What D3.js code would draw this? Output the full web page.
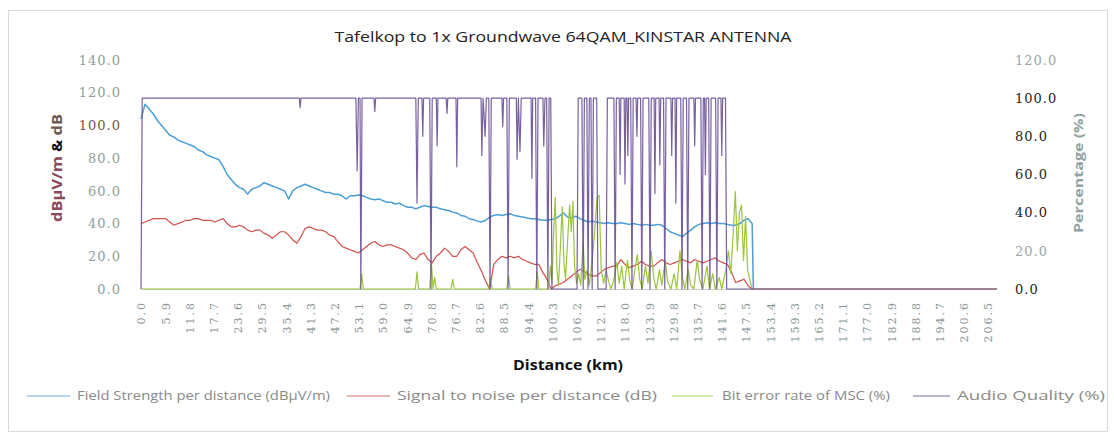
<!DOCTYPE html>
<html><head><meta charset="utf-8">
<script src="https://cdn.jsdelivr.net/npm/d3@7/dist/d3.min.js"></script>
<style>
html,body{margin:0;padding:0;background:#fff;}
svg{display:block;}
</style></head>
<body>
<svg id="chart" width="1114" height="439"></svg>
<script>
// ---------------- DATA ----------------
const title = "Tafelkop to 1x Groundwave 64QAM_KINSTAR ANTENNA";
const xTickLabels = [0.0,5.9,11.8,17.7,23.6,29.5,35.4,41.3,47.2,53.1,59.0,64.9,70.8,76.7,82.6,88.5,94.4,100.3,106.2,112.1,118.0,123.9,129.8,135.7,141.6,147.5,153.4,159.3,165.2,171.1,177.0,182.9,188.8,194.7,200.6,206.5];
const leftTicks = [0,20,40,60,80,100,120,140];
const rightTicks = [0,20,40,60,80,100,120];

// distance (km) for field strength & SNR samples
const fsKm = [0,1,2,3,4,5,6,7,8,9,10,11,12,13,14,15,16,17,18,19,20,21,22,23,24,25,26,27,28,29,30,31,32,33,34,35,36,37,38,39,40,41,42,43,44,45,46,47,48,49,50,51,52,53,54,55,56,57,58,59,60,61,62,63,64,65,66,67,68,69,70,71,72,73,74,75,76,77,78,79,80,81,82,83,84,85,86,87,88,89,90,91,92,93,94,95,96,97,98,99,100,101,102,103,104,105,106,107,108,109,110,111,112,113,114,115,116,117,118,119,120,121,122,123,124,125,126,127,128,129,130,131,132,133,134,135,136,137,138,139,140,141,142,143,144,145,146,147,148,149,149.3,208.7];
const fieldStrength = [104,113,110,107,103,100,97,94,93,91,90,89,88,87,85,84,82,81,80,79,75,70,67,64,62,61,58,61,62,63,65,64,63,62,61,60,55,60,62,63,64,63,62,61,60,59,59,58,58,57,55,57,57,57.5,57,56,55,54.5,55,54,53,53,52,52.5,51,50,50,49,50,51,50.5,50,50,49,48.5,48,47,46.5,45,44.5,43,42.5,41.5,41,42,44,45,45.5,45,45.5,46,45,44.5,44,43.5,43,43,42.5,42,42,42.5,43,44.5,46.5,44,43.5,44.5,43,42,41,41.5,41,40.5,40,40.5,40,40,40.5,40,39.5,40,39.5,39,39.5,39,39,39.5,39,37,35,34,33,32,34,36,38,39.5,40,40.5,40,40.5,40,40,39.5,39,39,40,42,43,40,0,0];
const snr = [40,41,42,43,43,43,43,41,39,40,41,42,42,43,43,42,42,42,41,42,43,40,38,38,39,38,36,35,36,36,34,33,31,33,35,35,33,30,28,32,37,38,37,36,36,35,33,32,29,26,25,24,23,22,24,26,28,29,27,26,27,27,26,25,24,22,19,18,21,22,18,16,20,22,25,23,20,20,24,26,24,22,16,11,5,0,15,18,20,19,20,19,20,18,17,16,15,15,10,6,0,2,3,4,6,8,10,12,11,9,8,8,10,12,13,14,14,18,15,13,14,15,17,15,14,14,16,18,16,15,16,17,18,17,16,18,17,16,17,18,19,17,16,15,10,4,5,6,2,0,0,0];

// Bit error rate of MSC (%) – breakpoints
const berKm = [0,53.4,53.8,54.2,66.9,67.3,67.7,70.4,70.8,71.2,71.6,72,75.6,76,76.4,84.8,85.2,85.6,89.2,89.6,90,96.2,96.6,97,99.4,99.8,100.2,100.6,101,101.4,101.8,102.2,102.7,103.1,103.5,104,104.5,104.9,105.3,105.7,106.2,106.7,107.2,107.8,108.2,108.8,109.3,110,110.6,111.2,111.7,112.2,112.8,113.4,114,114.6,115.4,116,116.6,117.2,117.8,118.6,119.2,119.8,120.4,121,121.6,122.2,123,123.6,124.4,125,125.6,126.4,127,127.8,128.4,129.2,130,130.6,131.4,132,132.6,133.4,134,134.8,135.6,136.2,137,138,138.6,139.4,140,141,141.6,142.6,143.2,143.8,144.4,144.9,145.4,145.9,146.4,146.9,147.4,147.9,148.4,149];
const berPct = [0,0,8,0,0,9,0,0,14,0,6,0,0,5,0,0,6,0,0,7,0,0,9,0,0,12,3,30,48,10,2,20,43,15,5,25,44,30,46,12,3,8,2,25,5,10,2,15,30,48,49,10,3,10,4,0,6,14,3,12,0,15,4,0,10,18,5,0,12,3,20,6,0,10,2,15,4,0,8,0,20,6,0,10,2,0,15,5,0,12,0,8,0,6,0,10,20,8,30,51,20,40,44,15,38,10,5,0];

// Audio Quality (%) – breakpoints
const aqKm = [0,0.3,38.6,38.8,39,52.4,52.7,53,53.4,53.6,53.9,56.8,57,57.2,67,67.3,67.6,68.5,68.7,68.9,70.4,70.7,71,72,72.2,72.4,74.4,74.6,74.8,76.8,77,77.2,82.9,83.1,83.4,83.9,84.2,84.8,85.1,85.4,88,88.2,88.4,89.2,89.5,89.8,91.5,91.7,92,92.4,92.7,95.1,95.3,95.5,96.2,96.5,96.8,98,98.2,98.5,98.9,99.2,99.5,99.9,100.2,106.3,106.6,107.5,107.8,108.1,108.7,109,109.3,109.7,110,110.3,111.1,111.4,113.4,113.7,115.3,115.6,115.9,116.6,116.8,117,117.8,118,118.2,118.5,118.7,118.9,119.4,119.7,120,120.7,120.9,121.1,121.8,122.1,122.4,123.8,124.1,124.4,125.1,125.3,125.5,126.3,126.5,126.7,127.4,127.7,128,129.2,129.4,129.6,130.2,130.4,130.6,131.6,131.9,132.2,133,133.3,133.6,134.8,135,135.2,136.5,136.8,137.1,137.4,137.6,137.8,138.4,138.7,139,140.1,140.4,140.7,141.4,141.6,141.8,142.5,142.8,149.3];
const aqPct = [0,100,100,95,100,100,62,100,100,0,100,100,93,100,100,45,100,100,80,100,100,0,100,100,75,100,100,92,100,100,64,100,100,70,100,80,100,100,0,100,100,85,100,100,0,100,100,68,100,72,100,100,58,100,100,0,100,100,75,100,100,0,100,100,0,0,100,100,0,100,100,0,100,100,0,100,100,0,0,100,100,0,100,100,60,100,100,55,100,100,70,100,100,0,100,100,80,100,100,0,100,100,0,100,100,50,100,100,65,100,100,0,100,100,70,100,100,45,100,100,0,100,100,0,100,100,75,100,100,0,100,100,60,100,100,0,100,100,0,100,100,70,100,100,0,0];

const seriesNames = ["Field Strength per distance (dBµV/m)","Signal to noise per distance (dB)","Bit error rate of MSC (%)","Audio Quality (%)"];
const seriesColors = ["#4a9fd8","#d0504d","#9bc43f","#62458f"];

// ---------------- DRAW ----------------
const svg = d3.select("#chart");
svg.append("rect").attr("x",8.5).attr("y",10.5).attr("width",1099).attr("height",421)
  .attr("fill","#fff").attr("stroke","#d9d9d9");

const x = d3.scaleLinear().domain([0,208.7]).range([141,997]);
const yL = d3.scaleLinear().domain([0,140]).range([289,60]);
const yR = d3.scaleLinear().domain([0,120]).range([289,60]);

// title
svg.append("text").attr("x",563).attr("y",42).attr("text-anchor","middle")
  .attr("font-family","Open Sans, sans-serif").attr("font-size",14).attr("fill","#222")
  .attr("textLength",457).attr("lengthAdjust","spacingAndGlyphs").text(title);

// axes
const gL = svg.append("g").attr("transform","translate(141,0)")
  .call(d3.axisLeft(yL).tickValues(leftTicks).tickFormat(d3.format(".1f")).tickSize(0).tickPadding(20));
gL.select(".domain").remove();
gL.selectAll("text").attr("font-family","DejaVu Serif, serif").attr("font-size",13)
  .attr("letter-spacing","1px").attr("fill",d => d === 100 ? "#6e5648" : "#8e9e9c");

const gR = svg.append("g").attr("transform","translate(997,0)")
  .call(d3.axisRight(yR).tickValues(rightTicks).tickFormat(d3.format(".1f")).tickSize(0).tickPadding(18));
gR.select(".domain").remove();
gR.selectAll("text").attr("font-family","DejaVu Serif, serif").attr("font-size",13)
  .attr("letter-spacing","1px").attr("fill",d => (d === 20 || d === 120) ? "#9aa6a6" : "#222");

const gB = svg.append("g").attr("transform","translate(0,289)")
  .call(d3.axisBottom(x).tickValues(xTickLabels).tickFormat(d3.format(".1f")).tickSize(0));
gB.select(".domain").attr("stroke","#c8d0cc");
gB.selectAll("text").attr("transform","rotate(-90)").attr("text-anchor","end")
  .attr("x",-12).attr("y",0).attr("dy","0.35em")
  .attr("font-family","DejaVu Serif, serif").attr("font-size",11)
  .attr("letter-spacing","2px").attr("fill","#8a9694");

// axis titles
const lt = svg.append("text").attr("transform","translate(62,168) rotate(-90)")
  .attr("text-anchor","middle").attr("font-family","Open Sans, sans-serif")
  .attr("font-weight","bold").attr("font-size",14)
  .attr("textLength",108).attr("lengthAdjust","spacingAndGlyphs");
lt.append("tspan").attr("fill","#8a4a5c").text("dBµV/m ");
lt.append("tspan").attr("fill","#111").text("& ");
lt.append("tspan").attr("fill","#6e5a50").text("dB");

svg.append("text").attr("transform","translate(1083,173) rotate(-90)")
  .attr("text-anchor","middle").attr("font-family","Open Sans, sans-serif")
  .attr("font-weight","bold").attr("font-size",13).attr("fill","#8fa3a2")
  .attr("textLength",120).attr("lengthAdjust","spacingAndGlyphs").text("Percentage (%)");

svg.append("text").attr("x",568).attr("y",370).attr("text-anchor","middle")
  .attr("font-family","Open Sans, sans-serif").attr("font-weight","bold")
  .attr("font-size",14).attr("fill","#111")
  .attr("textLength",110).attr("lengthAdjust","spacingAndGlyphs").text("Distance (km)");

// lines
const lineL = (ks, vs) => d3.line().x((d,i)=>x(ks[i])).y((d,i)=>yL(vs[i]))(vs);
const lineR = (ks, vs) => d3.line().x((d,i)=>x(ks[i])).y((d,i)=>yR(vs[i]))(vs);

svg.append("path").attr("d",lineL(fsKm,fieldStrength)).attr("fill","none")
  .attr("stroke",seriesColors[0]).attr("stroke-width",1.5).attr("stroke-linejoin","round");
svg.append("path").attr("d",lineL(fsKm,snr)).attr("fill","none")
  .attr("stroke",seriesColors[1]).attr("stroke-width",1.2).attr("stroke-linejoin","round");
svg.append("path").attr("d",lineR(berKm,berPct)).attr("fill","none")
  .attr("stroke",seriesColors[2]).attr("stroke-width",1.2).attr("stroke-linejoin","round");
svg.append("path").attr("d",lineR(aqKm,aqPct)).attr("fill","none")
  .attr("stroke",seriesColors[3]).attr("stroke-width",1.2).attr("stroke-linejoin","round")
  .attr("stroke-opacity",0.85);

// legend
const legend = [
  {lx1:27,lx2:70,tx:77,tw:253},
  {lx1:347,lx2:390,tx:397,tw:260},
  {lx1:672,lx2:713,tx:722,tw:168},
  {lx1:913,lx2:950,tx:957,tw:148}
];
legend.forEach((l,i)=>{
  svg.append("line").attr("x1",l.lx1).attr("x2",l.lx2).attr("y1",396).attr("y2",396)
    .attr("stroke",seriesColors[i]).attr("stroke-width",1.5).attr("stroke-opacity",0.55);
  svg.append("text").attr("x",l.tx).attr("y",400).attr("font-family","Open Sans, sans-serif")
    .attr("font-size",13).attr("fill","#8a8a8a")
    .attr("textLength",l.tw).attr("lengthAdjust","spacingAndGlyphs").text(seriesNames[i]);
});
</script>
</body></html>
